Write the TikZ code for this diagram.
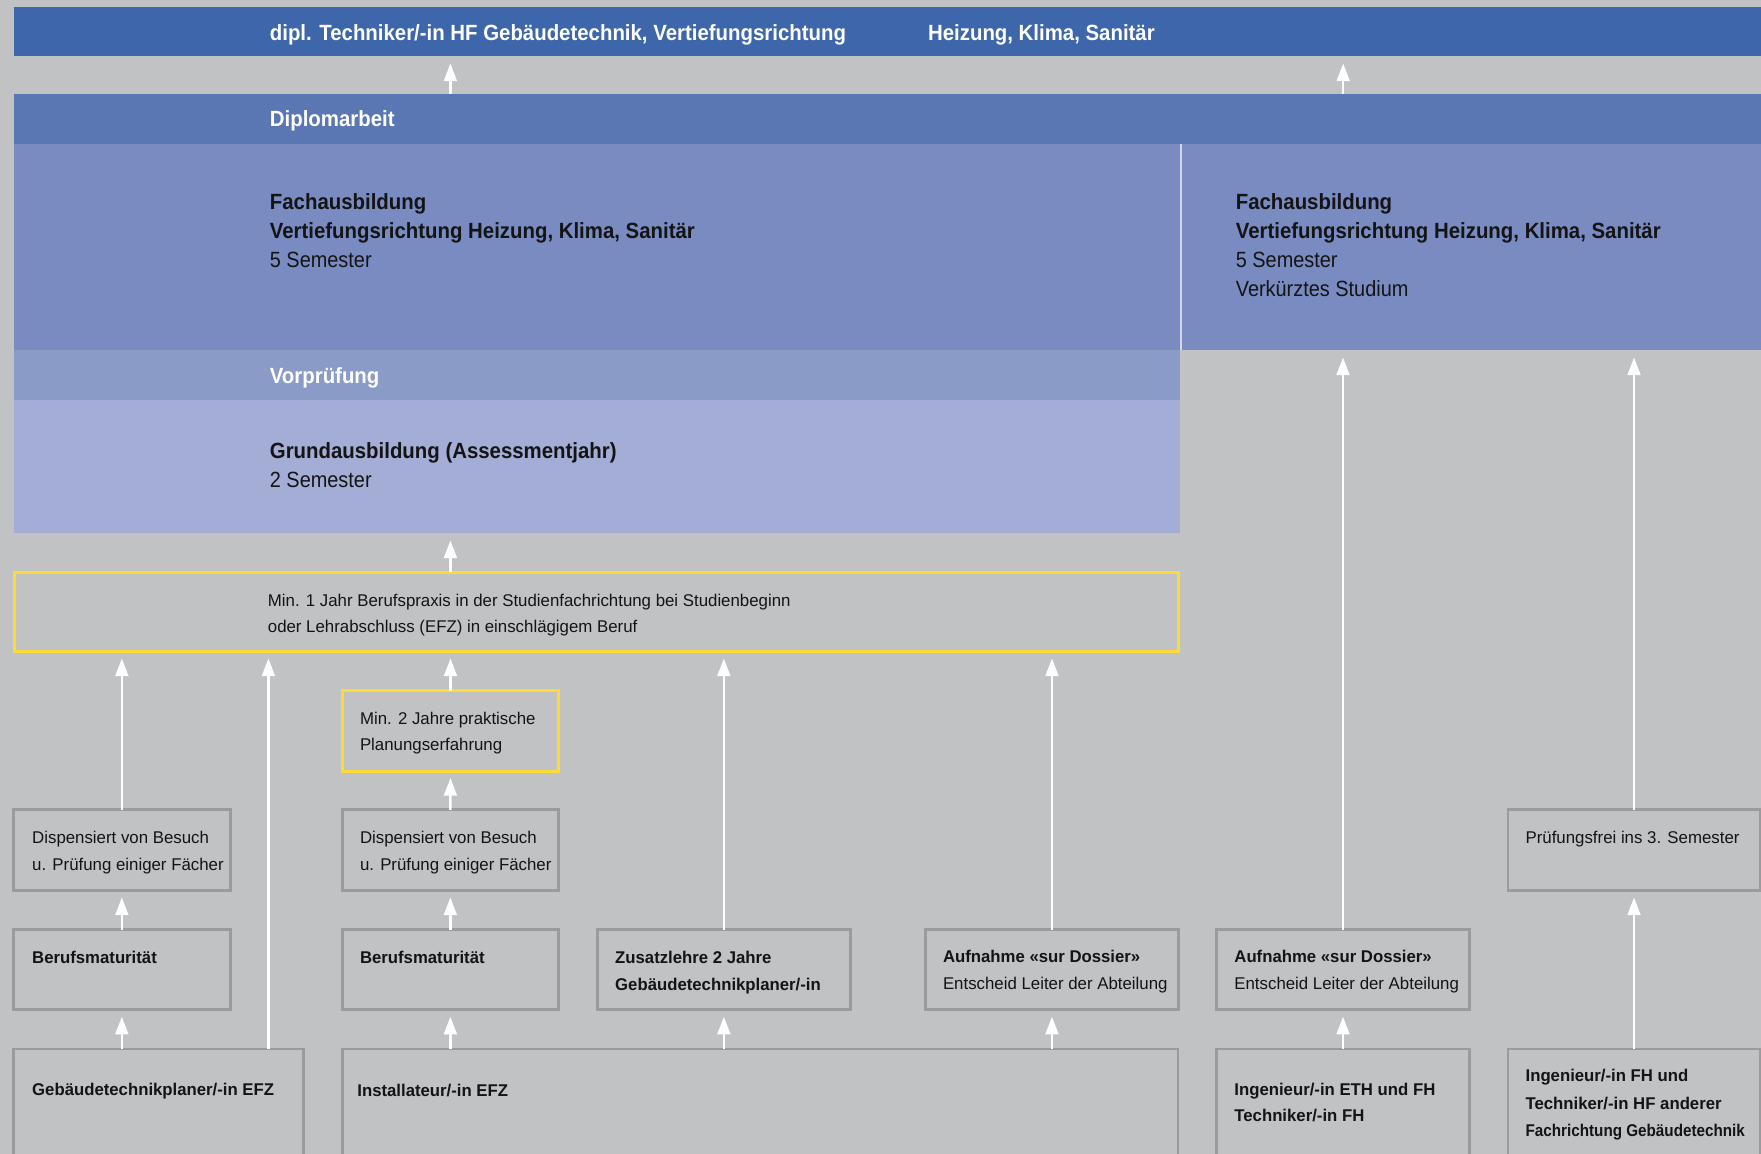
\documentclass[tikz,border=0pt]{standalone}
\usepackage{graphicx}
\usepackage{fontspec}
\setmainfont{Liberation Sans}
\newfontfamily\Lf{Liberation Sans}[FakeStretch=0.905]
\newfontfamily\Lbf{Liberation Sans}[FakeStretch=0.927]
\newfontfamily\Sf{Liberation Sans}[FakeStretch=0.99]
\newfontfamily\Sbf{Liberation Sans}[FakeStretch=0.985]
\usetikzlibrary{arrows.meta}
\definecolor{bg}{HTML}{C1C2C4}
\definecolor{topbar}{HTML}{3E66AB}
\definecolor{dipl}{HTML}{5A77B3}
\definecolor{fach}{HTML}{798BC1}
\definecolor{vorp}{HTML}{8A9BC8}
\definecolor{grund}{HTML}{A3ADD5}
\definecolor{yel}{HTML}{FDDB36}
\definecolor{boxgray}{HTML}{9A9B9D}
\definecolor{sepc}{HTML}{D3D6E4}
\definecolor{ink}{HTML}{141414}
\newcommand\mkbox[6]{\node[#1, anchor=north west, inner sep=0pt, outer sep=0pt, minimum width={(#5-#3)*0.5pt}, minimum height={(#6-#4)*0.5pt}] (#2) at (#3,#4) {};}
\tikzset{
 band/.style={fill=#1, draw=none},
 gbox/.style={draw=boxgray, line width=1.4pt},
 ybox/.style={draw=yel, line width=1.5pt},
 arr/.style={draw=white, line width=1.2pt, -{Triangle[width=6.4pt,length=8.8pt]}, shorten >=3.5pt},
 Lt/.style={anchor=base west, inner sep=0pt, text=ink, font=\Lf\fontsize{11}{13}\selectfont},
 Lb/.style={anchor=base west, inner sep=0pt, text=ink, font=\Lbf\bfseries\fontsize{11}{13}\selectfont},
 St/.style={anchor=base west, inner sep=0pt, text=ink, font=\Sf\fontsize{8.5}{10}\selectfont},
 Sb/.style={anchor=base west, inner sep=0pt, text=ink, font=\Sbf\bfseries\fontsize{8.5}{10}\selectfont},
}
\begin{document}
\begin{tikzpicture}[x=0.5pt,y=-0.5pt]
\useasboundingbox (0,0) rectangle (1761,1154);
\clip (0,0) rectangle (1761,1154);
\fill[bg] (0,0) rectangle (1761,1154);
% bands
\mkbox{band=topbar}{top}{13.5}{6.7}{1765}{56.5}
\mkbox{band=dipl}{dipl}{13.5}{94.3}{1765}{144}
\mkbox{band=fach}{fachL}{13.5}{144}{1180}{350.5}
\mkbox{band=fach}{fachR}{1182}{144}{1765}{350.5}
\mkbox{band=vorp}{vorp}{13.5}{350.5}{1180}{400}
\mkbox{band=grund}{grund}{13.5}{400}{1180}{533.5}
\draw[sepc, line width=1pt] ([xshift=0.5pt]fachL.north east) -- ([xshift=0.5pt]fachL.south east);
% boxes
\mkbox{ybox}{yel}{14}{572.5}{1178}{651.5}
\mkbox{ybox}{min2}{342.5}{690.7}{558.5}{771}
\mkbox{gbox}{disp1}{13.5}{809.8}{230.2}{890.5}
\mkbox{gbox}{disp2}{342.5}{809.8}{558.2}{890.5}
\mkbox{gbox}{pruef}{1508}{809.8}{1760}{890.5}
\mkbox{gbox}{bm1}{13.5}{929.8}{230.2}{1009.7}
\mkbox{gbox}{bm2}{342.5}{929.8}{558.2}{1009.7}
\mkbox{gbox}{zus}{597.5}{929.8}{850.2}{1009.7}
\mkbox{gbox}{auf1}{925.4}{929.8}{1178.5}{1009.7}
\mkbox{gbox}{auf2}{1216.5}{929.8}{1469.5}{1009.7}
\mkbox{gbox}{gtp}{13.5}{1049}{303.2}{1180}
\mkbox{gbox}{inst}{342.5}{1049}{1178}{1180}
\mkbox{gbox}{ing1}{1216.5}{1049}{1469.5}{1180}
\mkbox{gbox}{ing2}{1508}{1049}{1760}{1180}
% arrow columns
\coordinate (ax1) at (450.4,0);
\coordinate (ax2) at (1343.2,0);
\coordinate (ax4) at (268.4,0);
% arrows
\draw[arr] (dipl.north -| ax1) -- (top.south -| ax1);
\draw[arr] (dipl.north -| ax2) -- (top.south -| ax2);
\draw[arr] (yel.north -| ax1) -- (grund.south -| ax1);
\draw[arr] (min2.north) -- (yel.south -| min2.north);
\draw[arr] (disp2.north) -- (min2.south);
\draw[arr] (bm2.north) -- (disp2.south);
\draw[arr] (inst.north -| bm2.south) -- (bm2.south);
\draw[arr] (disp1.north) -- (yel.south -| disp1.north);
\draw[arr] (bm1.north) -- (disp1.south);
\draw[arr] (gtp.north -| bm1.south) -- (bm1.south);
\draw[arr] (gtp.north -| ax4) -- (yel.south -| ax4);
\draw[arr] (zus.north) -- (yel.south -| zus.north);
\draw[arr] (inst.north -| zus.south) -- (zus.south);
\draw[arr] (auf1.north) -- (yel.south -| auf1.north);
\draw[arr] (inst.north -| auf1.south) -- (auf1.south);
\draw[arr] (auf2.north) -- (fachR.south -| auf2.north);
\draw[arr] (ing1.north -| auf2.south) -- (auf2.south);
\draw[arr] (pruef.north) -- (fachR.south -| pruef.north);
\draw[arr] (ing2.north -| pruef.south) -- (pruef.south);
% texts in bands
\node[Lb, text=white] (t1) at (269.5,41) {dipl. Techniker/-in HF Gebäudetechnik, Vertiefungsrichtung};
\node[Lb, text=white] (t2) at (927.7,41) {Heizung, Klima, Sanitär};
\node[Lb, text=white] (t3) at (269.5,127) {Diplomarbeit};
\node[Lb] (t4) at (269.5,209.3) {Fachausbildung};
\node[Lb] (t5) at (269.5,238.3) {Vertiefungsrichtung Heizung, Klima, Sanitär};
\node[Lt] (t6) at (269.5,267.3) {5 Semester};
\node[Lb] (t7) at (1235.4,209.3) {Fachausbildung};
\node[Lb] (t8) at (1235.4,238.3) {Vertiefungsrichtung Heizung, Klima, Sanitär};
\node[Lt] (t9) at (1235.4,267.3) {5 Semester};
\node[Lt] (t10) at (1235.4,296.3) {Verkürztes Studium};
\node[Lb, text=white] (t11) at (269.5,384) {Vorprüfung};
\node[Lb] (t12) at (269.5,458.4) {Grundausbildung (Assessmentjahr)};
\node[Lt] (t13) at (269.5,487.4) {2 Semester};
% texts in boxes
\node[St] (t14) at (267.5,606.7) {Min. 1 Jahr Berufspraxis in der Studienfachrichtung bei Studienbeginn};
\node[St] (t15) at (267.5,632.7) {oder Lehrabschluss (EFZ) in einschlägigem Beruf};
\node[St] (t16) at (359.6,724.5) {Min. 2 Jahre praktische};
\node[St] (t17) at (359.6,750.5) {Planungserfahrung};
\node[St] (t18) at (31.8,843.5) {Dispensiert von Besuch};
\node[St] (t19) at (31.8,870.3) {u. Prüfung einiger Fächer};
\node[St] (t20) at (359.6,843.5) {Dispensiert von Besuch};
\node[St] (t21) at (359.6,870.3) {u. Prüfung einiger Fächer};
\node[St] (t22) at (1525.2,843.5) {Prüfungsfrei ins 3. Semester};
\node[Sb] (t23) at (31.8,963) {Berufsmaturität};
\node[Sb] (t24) at (359.6,963) {Berufsmaturität};
\node[Sb] (t25) at (614.8,963) {Zusatzlehre 2 Jahre};
\node[Sb] (t26) at (614.8,990) {Gebäudetechnikplaner/-in};
\node[Sb] (t27) at (942.6,962) {Aufnahme «sur Dossier»};
\node[St] (t28) at (942.6,989) {Entscheid Leiter der Abteilung};
\node[Sb] (t29) at (1234,962) {Aufnahme «sur Dossier»};
\node[St] (t30) at (1234,989) {Entscheid Leiter der Abteilung};
\node[Sb] (t31) at (31.8,1095) {Gebäudetechnikplaner/-in EFZ};
\node[Sb] (t32) at (357,1096) {Installateur/-in EFZ};
\node[Sb] (t33) at (1234,1095) {Ingenieur/-in ETH und FH};
\node[Sb] (t34) at (1234,1121.7) {Techniker/-in FH};
\node[Sb] (t35) at (1525.2,1081.7) {Ingenieur/-in FH und};
\node[Sb] (t36) at (1525.2,1109) {Techniker/-in HF anderer};
\node[Sb] (t37) at (1525.2,1136) {\scalebox{0.91}[1]{Fachrichtung Gebäudetechnik}};
\end{tikzpicture}
\end{document}
